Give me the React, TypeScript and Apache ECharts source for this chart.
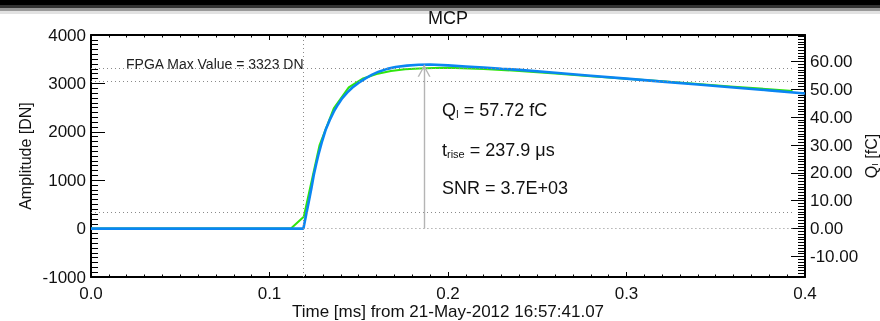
import React, { useEffect, useRef } from 'react';
import * as echarts from 'echarts';

// ---- data ----
const greenTime = [0, 0.112, 0.1192, 0.128, 0.136, 0.1444, 0.152, 0.16, 0.168, 0.176, 0.184, 0.192, 0.2, 0.22, 0.24, 0.26, 0.28, 0.3, 0.32, 0.34, 0.36, 0.38, 0.393];
const greenAmp = [0, 0, 246, 1720, 2486, 2919, 3095, 3195, 3255, 3290, 3310, 3320, 3322, 3300, 3258, 3205, 3150, 3096, 3042, 2988, 2933, 2879, 2844];

const blueTime = [0, 0.119, 0.1205, 0.122, 0.1235, 0.1248, 0.1262, 0.1276, 0.1295, 0.1314, 0.1337, 0.136, 0.1384, 0.1407, 0.1435, 0.1463, 0.15, 0.1538, 0.1575, 0.1612, 0.166, 0.1706, 0.177, 0.1836, 0.19, 0.2, 0.21, 0.22, 0.23, 0.24, 0.26, 0.28, 0.3, 0.32, 0.34, 0.36, 0.38, 0.4];
const blueAmp = [0, 0, 280, 556, 840, 1107, 1340, 1556, 1810, 2037, 2240, 2415, 2565, 2692, 2810, 2911, 3015, 3105, 3180, 3242, 3300, 3339, 3368, 3386, 3390, 3372, 3350, 3328, 3303, 3279, 3220, 3159, 3098, 3037, 2977, 2916, 2855, 2792];

const fpgaMax = 3323;          // DN
const chargeFc = 57.72;        // fC
const level90 = 3051;          // DN
const level10 = 339;           // DN
const tStart = 0.119;          // ms
const tPeak = 0.1866;          // ms
const peakAmp = 3385;          // DN (arrow tip)
const arrowHeadAt = 3262;      // DN (centre of the arrow head)
const tEnd = 0.393;            // ms

const xTicks = [0, 0.4, 0.1];          // min, max, interval (ms)
const yTicks = [-1000, 4000, 1000];    // min, max, interval (DN)
const qInterval = 10;                  // fC

const FONT = 'Liberation Sans, Arial, Helvetica, sans-serif';
const INK = '#111';
const CHEVRON = 'path://M0,12 L6.5,0 L13,12 L11.5,12 L6.5,2.8 L1.5,12 Z';

export default function App() {
  const ref = useRef<HTMLDivElement>(null);

  useEffect(() => {
    if (!ref.current) return;
    const chart = echarts.init(ref.current, undefined, { renderer: 'svg' });
    const dnPerFc = fpgaMax / chargeFc;
    const green = greenTime.map((t, i) => [t, greenAmp[i]]);
    const blue = blueTime.map((t, i) => [t, blueAmp[i]]);

    const dotted = { type: [1, 3] as any, color: '#8a8a8a', width: 1 };
    const axisLine = () => ({ show: true, onZero: false, lineStyle: { color: '#000', width: 2 } });
    const tick = (len: number) => ({ show: true, inside: true, length: len, lineStyle: { color: '#000', width: 1 } });
    const minor = (len: number) => ({ show: true, splitNumber: 10, length: len, lineStyle: { color: '#000', width: 1 } });

    const option: any = {
      animation: false,
      backgroundColor: 'transparent',
      grid: { left: 91, right: 75, top: 35, bottom: 44, outerBoundsMode: 'none' },
      xAxis: [
        {
          type: 'value', min: xTicks[0], max: xTicks[1], interval: xTicks[2], position: 'bottom',
          axisLine: axisLine(), axisTick: tick(5), minorTick: minor(2.5), splitLine: { show: false },
          axisLabel: { fontSize: 17, color: INK, margin: 8, fontFamily: FONT, formatter: (v: number) => v.toFixed(1) },
          name: 'Time [ms] from 21-May-2012 16:57:41.07', nameLocation: 'middle', nameGap: 26, nameMoveOverlap: false,
          nameTextStyle: { fontSize: 17, color: INK, fontFamily: FONT },
        },
        {
          type: 'value', min: xTicks[0], max: xTicks[1], interval: xTicks[2], position: 'top',
          axisLine: axisLine(), axisTick: tick(5), minorTick: minor(2.5), splitLine: { show: false },
          axisLabel: { show: false },
        },
      ],
      yAxis: [
        {
          type: 'value', min: yTicks[0], max: yTicks[1], interval: yTicks[2], position: 'left',
          axisLine: axisLine(), axisTick: tick(14), minorTick: minor(7), splitLine: { show: false },
          axisLabel: { fontSize: 17, color: INK, margin: 5, fontFamily: FONT, formatter: (v: number) => String(v) },
          name: 'Amplitude [DN]', nameLocation: 'middle', nameGap: 58, nameRotate: 90, nameMoveOverlap: false,
          nameTextStyle: { fontSize: 16, color: INK, fontFamily: FONT },
        },
        {
          type: 'value', min: yTicks[0] / dnPerFc, max: yTicks[1] / dnPerFc, splitNumber: 8, minInterval: qInterval, maxInterval: qInterval,
          position: 'right',
          axisLine: axisLine(), axisTick: tick(14), minorTick: minor(7), splitLine: { show: false },
          axisLabel: { fontSize: 17, color: INK, margin: 5, fontFamily: FONT, showMinLabel: false, showMaxLabel: false, formatter: (v: number) => v.toFixed(2) },
          name: '{a|Q}{b|I}{a| [fC]}', nameLocation: 'middle', nameGap: 58, nameRotate: 90, nameMoveOverlap: false,
          nameTextStyle: {
            color: INK, fontFamily: FONT,
            rich: { a: { fontSize: 16, fontFamily: FONT, color: INK }, b: { fontSize: 9, fontFamily: FONT, color: INK, verticalAlign: 'bottom' } },
          },
        },
      ],
      series: [
        {
          type: 'line', name: 'data', data: green, xAxisIndex: 0, yAxisIndex: 0,
          showSymbol: false, symbol: 'none', lineStyle: { color: '#2fe60c', width: 2 }, z: 3,
          markLine: {
            silent: true, symbol: ['none', 'none'], label: { show: false },
            lineStyle: dotted,
            data: [
              [{ coord: [xTicks[0], fpgaMax] }, { coord: [tEnd, fpgaMax] }],
              [{ coord: [xTicks[0], level90] }, { coord: [tEnd, level90] }],
              [{ coord: [xTicks[0], level10] }, { coord: [tEnd, level10] }],
              [{ coord: [tStart, 0] }, { coord: [tEnd, 0] }],
              [{ coord: [tStart, yTicks[0]] }, { coord: [tStart, yTicks[1]] }],
            ],
          },
        },
        {
          type: 'line', name: 'fit', data: blue, xAxisIndex: 0, yAxisIndex: 0,
          showSymbol: false, symbol: 'none', lineStyle: { color: '#0a86f2', width: 2.6 }, z: 4,
          markLine: {
            silent: true, symbol: ['none', 'none'], label: { show: false },
            lineStyle: { type: 'solid', color: '#b4b4b4', width: 1.4 },
            data: [
              [{ coord: [tPeak, 0] }, { coord: [tPeak, peakAmp] }],
              [{ coord: [tPeak, arrowHeadAt - 10], symbol: 'none' }, { coord: [tPeak, arrowHeadAt], symbol: CHEVRON, symbolSize: [13, 12] }],
            ],
          },
        },
      ],
      graphic: [
        { type: 'rect', id: 'band0', silent: true, shape: { x: 0, y: 0, width: 880, height: 5 }, style: { fill: '#000' } },
        { type: 'rect', id: 'band1', silent: true, shape: { x: 0, y: 5, width: 880, height: 3 }, style: { fill: '#333' } },
        { type: 'rect', id: 'band2', silent: true, shape: { x: 0, y: 8, width: 880, height: 3 }, style: { fill: '#999' } },
        { type: 'rect', id: 'band3', silent: true, shape: { x: 0, y: 11, width: 880, height: 3 }, style: { fill: '#e2e2e2' } },
        {
          type: 'text', id: 'title', x: 448, y: 18,
          style: { text: 'MCP', fontSize: 18, fontFamily: FONT, fill: INK, align: 'center', verticalAlign: 'middle' },
        },
        {
          type: 'text', id: 'fpga', x: 126, y: 64,
          style: { text: 'FPGA Max Value = 3323 DN', fontSize: 14, fontFamily: FONT, fill: '#222', align: 'left', verticalAlign: 'middle' },
        },
        {
          type: 'text', id: 'q', x: 442, y: 110,
          style: {
            text: '{a|Q}{b|I}{a| = 57.72 fC}', fontFamily: FONT, fill: INK, align: 'left', verticalAlign: 'middle',
            rich: { a: { fontSize: 18, fontFamily: FONT, fill: INK }, b: { fontSize: 10, fontFamily: FONT, fill: INK, verticalAlign: 'bottom' } },
          },
        },
        {
          type: 'text', id: 't', x: 442, y: 150,
          style: {
            text: '{a|t}{b|rise}{a| = 237.9 μs}', fontFamily: FONT, fill: INK, align: 'left', verticalAlign: 'middle',
            rich: { a: { fontSize: 18, fontFamily: FONT, fill: INK }, b: { fontSize: 11, fontFamily: FONT, fill: INK, verticalAlign: 'bottom' } },
          },
        },
        {
          type: 'text', id: 'snr', x: 442, y: 188,
          style: { text: 'SNR = 3.7E+03', fontSize: 18, fontFamily: FONT, fill: INK, align: 'left', verticalAlign: 'middle' },
        },
      ],
    };
    chart.setOption(option);

    return () => chart.dispose();
  }, []);

  return <div ref={ref} style={{ position: 'fixed', left: 0, top: 0, width: 880, height: 321 }} />;
}
